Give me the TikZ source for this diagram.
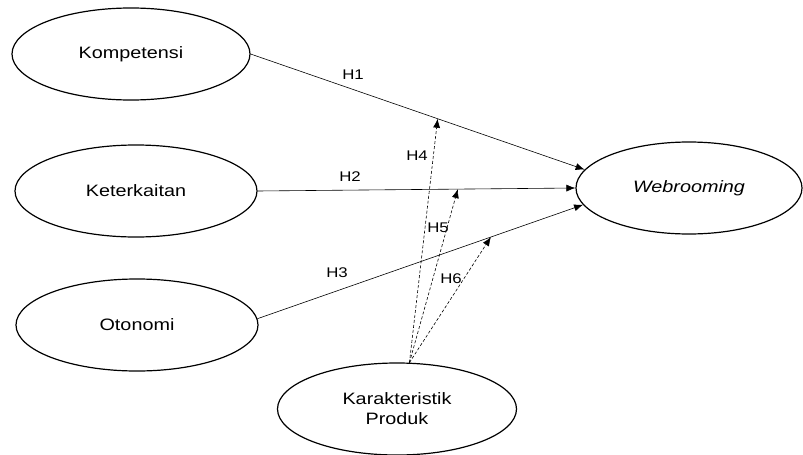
\documentclass[tikz,border=0pt]{standalone}
\usepackage{fontspec}
\setmainfont[FakeStretch=1.2]{Liberation Sans}
\usetikzlibrary{arrows.meta,shapes.geometric}

\begin{document}
\begin{tikzpicture}[
  x=1pt, y=-1pt,
  var/.style={draw, ellipse, line width=1.2pt, minimum width=238pt, minimum height=92pt, align=center, font=\fontsize{16.5}{20}\selectfont},
  arr/.style={-{Latex[length=9pt,width=7pt]}, line width=0.6pt},
  mod/.style={arr, dash pattern=on 3pt off 2pt},
  hyp/.style={font=\fontsize{14}{16}\selectfont}
]
\useasboundingbox (0,0) rectangle (803,455);
\node[var] (kom) at (131,54) {Kompetensi};
\node[var, minimum width=242pt] (ket) at (136,191) {Keterkaitan};
\node[var, minimum width=242pt] (oto) at (137,325) {Otonomi};
\node[var, minimum width=226pt] (web) at (689,188) {\textit{Webrooming}};
\node[var, minimum width=239pt] (kar) at (397,409) {Karakteristik\\Produk};
\draw[arr] (kom.east) -- coordinate[pos=0.56] (m1) (web.170.5);
\draw[arr] (ket.east) -- coordinate[pos=0.63] (m2) (web.west);
\draw[arr] (oto.3) -- coordinate[pos=0.717] (m3) (web.189.5);
\coordinate (src) at (kar.75);
\draw[mod] (src) -- (m1);
\draw[mod] (src) -- (m2);
\draw[mod] (src) -- (m3);
\node[hyp] (h1) at (353,75) {H1};
\node[hyp] (h2) at (350,177) {H2};
\node[hyp] (h3) at (337,273) {H3};
\node[hyp] (h4) at (417,156) {H4};
\node[hyp] (h5) at (438,228) {H5};
\node[hyp] (h6) at (451,279) {H6};
\end{tikzpicture}
\end{document}
